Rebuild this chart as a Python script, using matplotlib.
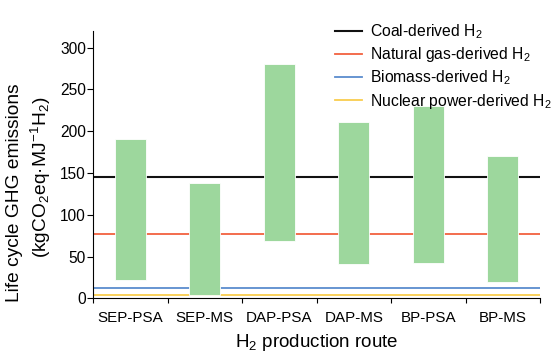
import matplotlib
matplotlib.use("Agg")
import matplotlib.pyplot as plt
import numpy as np

plt.rcParams['font.family'] = ['Liberation Sans', 'DejaVu Sans']
plt.rcParams['mathtext.fontset'] = 'custom'
plt.rcParams['mathtext.rm'] = 'Liberation Sans'
plt.rcParams['mathtext.it'] = 'Liberation Sans:italic'
plt.rcParams['mathtext.default'] = 'regular'

routes = ["SEP-PSA", "SEP-MS", "DAP-PSA", "DAP-MS", "BP-PSA", "BP-MS"]
low = [22, 4, 68, 41, 42, 20]
high = [191, 138, 281, 211, 230, 170]

ref_names = ["Coal-derived H$_2$", "Natural gas-derived H$_2$",
             "Biomass-derived H$_2$", "Nuclear power-derived H$_2$"]
ref_values = [145, 77, 12.5, 4.3]
ref_colors = ["#111111", "#f2613f", "#5b8cce", "#f9cd4e"]

W, H = 554, 356
fig = plt.figure(figsize=(W / 100, H / 100), dpi=100)
ax = fig.add_axes([93 / W, 1 - 298.3 / H, (540 - 93) / W, (298.3 - 31) / H])

x = np.arange(len(routes)) + 0.5
for name, v, c in zip(ref_names, ref_values, ref_colors):
    ax.axhline(v, color=c, lw=1.5 if c == "#111111" else 1.3, label=name, zorder=2)

ax.bar(x, np.array(high) - np.array(low), bottom=low, width=0.41,
       color="#9dd79d", edgecolor="white", linewidth=0.6, zorder=3)

ax.set_xlim(0, len(routes))
ax.set_ylim(0, 320)
ax.set_yticks([0, 50, 100, 150, 200, 250, 300])
ax.set_xticks(np.arange(len(routes) + 1))
ax.set_xticklabels([])
ax.set_xticks(x, minor=True)
ax.set_xticklabels(routes, minor=True)
ax.tick_params(axis='x', which='minor', length=0, pad=9.5, labelsize=10.9)
ax.tick_params(axis='x', which='major', length=3.5, width=0.8)
ax.tick_params(axis='y', length=4, width=0.8, labelsize=11.2, pad=1)

for s in ["top", "right"]:
    ax.spines[s].set_visible(False)
for s in ["left", "bottom"]:
    ax.spines[s].set_linewidth(0.8)

ax.set_xlabel("H$_2$ production route", fontsize=13.5, labelpad=5)

fig.text(15 / W, 1 - 193 / H, "Life cycle GHG emissions", rotation=90,
         ha="center", va="center", fontsize=13.8)
fig.text(41 / W, 1 - 177.5 / H, "(kgCO$_2$eq·MJ$^{-1}$H$_2$)", rotation=90,
         ha="center", va="center", fontsize=13.8)

leg = ax.legend(loc="upper right", bbox_to_anchor=(1.058, 1.085), frameon=False,
                fontsize=11.3, handlelength=1.7, handletextpad=0.5, labelspacing=0.27)

fig.savefig("out.png", dpi=100)
